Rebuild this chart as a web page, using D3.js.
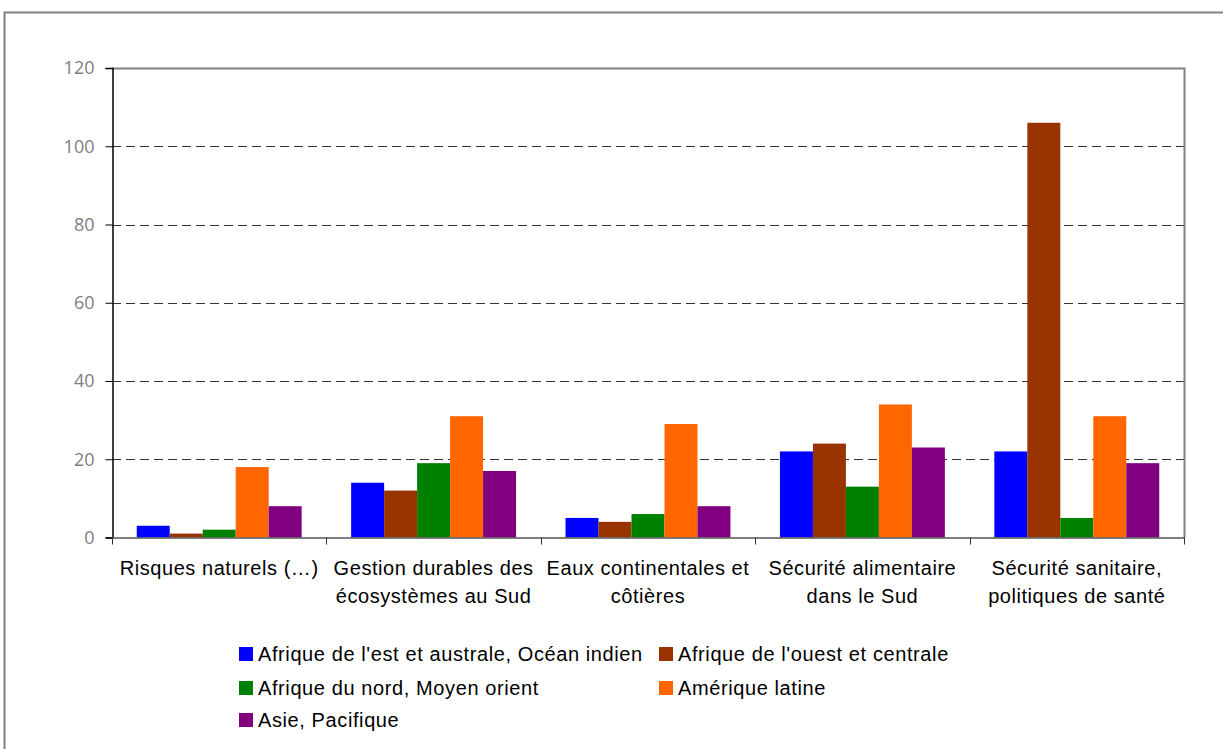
<!DOCTYPE html>
<html>
<head>
<meta charset="utf-8">
<script src="https://cdn.jsdelivr.net/npm/d3@7"></script>
<style>
  html, body { margin: 0; padding: 0; background: #fff; }
  svg { display: block; font-family: "Liberation Sans", Arial, sans-serif; }
</style>
</head>
<body>
<div id="chart"></div>
<script>
var categories = [
  ["Risques naturels (\u2026)"],
  ["Gestion durables des", "\u00e9cosyst\u00e8mes au Sud"],
  ["Eaux continentales et", "c\u00f4ti\u00e8res"],
  ["S\u00e9curit\u00e9 alimentaire", "dans le Sud"],
  ["S\u00e9curit\u00e9 sanitaire,", "politiques de sant\u00e9"]
];
var seriesNames = [
  "Afrique de l'est et australe, Oc\u00e9an indien",
  "Afrique de l'ouest et centrale",
  "Afrique du nord, Moyen orient",
  "Am\u00e9rique latine",
  "Asie, Pacifique"
];
var seriesColors = ["#0000ff", "#993300", "#008000", "#ff6600", "#800080"];
var afriqueEst   = [3, 14, 5, 22, 22];
var afriqueOuest = [1, 12, 4, 24, 106];
var afriqueNord  = [2, 19, 6, 13, 5];
var ameriqueLat  = [18, 31, 29, 34, 31];
var asiePac      = [8, 17, 8, 23, 19];
var yTicks = [0, 20, 40, 60, 80, 100, 120];

var series = [afriqueEst, afriqueOuest, afriqueNord, ameriqueLat, asiePac];

var W = 1223, H = 749;
var plot = {left: 112, right: 1184, top: 68, bottom: 537.5};

var svg = d3.select('#chart').append('svg')
  .attr('width', W).attr('height', H);

// outer frame
svg.append('rect')
  .attr('x', 4.5).attr('y', 12.5)
  .attr('width', W + 20).attr('height', H)
  .attr('fill', 'none').attr('stroke', '#808080').attr('stroke-width', 2);

var x0 = d3.scaleBand()
  .domain(d3.range(categories.length))
  .range([plot.left, plot.right])
  .paddingInner(0).paddingOuter(0);

var x1 = d3.scaleBand()
  .domain(d3.range(series.length))
  .range([0, x0.bandwidth()])
  .paddingOuter(0.75).paddingInner(0);

var y = d3.scaleLinear().domain([0, 120]).range([plot.bottom, plot.top]);

// gridlines
svg.append('g').selectAll('line')
  .data(yTicks.filter(function(d){ return d > 0 && d < 120; }))
  .enter().append('line')
    .attr('x1', plot.left).attr('x2', plot.right)
    .attr('y1', function(d){ return Math.round(y(d)) + 0.5; })
    .attr('y2', function(d){ return Math.round(y(d)) + 0.5; })
    .attr('stroke', '#333').attr('stroke-width', 1)
    .attr('stroke-dasharray', '9,5');

// plot border top/right
svg.append('path')
  .attr('d', 'M' + plot.left + ',' + (plot.top + 0.5) + 'H' + (plot.right + 0.5) + 'V' + plot.bottom)
  .attr('fill', 'none').attr('stroke', '#808080').attr('stroke-width', 2);

// bars
series.forEach(function(vals, si){
  svg.append('g').selectAll('rect')
    .data(vals)
    .enter().append('rect')
      .attr('x', function(d, i){ return x0(i) + x1(si); })
      .attr('width', x1.bandwidth())
      .attr('y', function(d){ return y(d); })
      .attr('height', function(d){ return y(0) - y(d); })
      .attr('fill', seriesColors[si]);
});

// y axis
var yAxis = svg.append('g')
  .attr('transform', 'translate(' + (plot.left + 0.5) + ',0)')
  .call(d3.axisLeft(y).tickValues(yTicks).tickSize(7).tickPadding(11));
yAxis.select('.domain').attr('stroke', '#000').attr('stroke-width', 1.5);
yAxis.selectAll('.tick line').attr('stroke', '#000');
yAxis.selectAll('.tick text')
  .attr('fill', '#808080')
  .style('font-size', '18px')
  .style('font-family', '"Open Sans", "Liberation Sans", sans-serif');

// x axis
var xTickPos = d3.range(categories.length + 1).map(function(i){ return plot.left + i * x0.bandwidth(); });
svg.append('line')
  .attr('x1', plot.left).attr('x2', plot.right + 1)
  .attr('y1', plot.bottom + 0.5).attr('y2', plot.bottom + 0.5)
  .attr('stroke', '#555').attr('stroke-width', 1.5);
svg.append('g').selectAll('line')
  .data(xTickPos).enter().append('line')
    .attr('x1', function(d){ return Math.round(d) + 0.5; })
    .attr('x2', function(d){ return Math.round(d) + 0.5; })
    .attr('y1', plot.bottom).attr('y2', plot.bottom + 7)
    .attr('stroke', '#333');

var catLabels = svg.append('g').selectAll('text')
  .data(categories).enter().append('text')
    .attr('text-anchor', 'middle')
    .style('font-size', '20px')
    .style('letter-spacing', '0.55px')
    .attr('fill', '#000')
    .attr('transform', function(d, i){ return 'translate(' + (x0(i) + x0.bandwidth() / 2) + ',575)'; });
catLabels.selectAll('tspan')
  .data(function(d){ return d; }).enter().append('tspan')
    .attr('x', 0)
    .attr('dy', function(d, i){ return i ? 28 : 0; })
    .text(function(d){ return d; });

// legend
var legendPos = [
  {x: 239, y: 661}, {x: 659, y: 661},
  {x: 239, y: 695}, {x: 659, y: 695},
  {x: 239, y: 727}
];
var legend = svg.append('g').selectAll('g')
  .data(seriesNames).enter().append('g')
    .attr('transform', function(d, i){ return 'translate(' + legendPos[i].x + ',' + legendPos[i].y + ')'; });
legend.append('rect')
  .attr('x', 0).attr('y', -14).attr('width', 14).attr('height', 14)
  .attr('fill', function(d, i){ return seriesColors[i]; });
legend.append('text')
  .attr('x', 19).attr('y', 0)
  .style('font-size', '20px')
  .style('letter-spacing', '0.6px')
  .attr('fill', '#000')
  .text(function(d){ return d; });
</script>
</body>
</html>
